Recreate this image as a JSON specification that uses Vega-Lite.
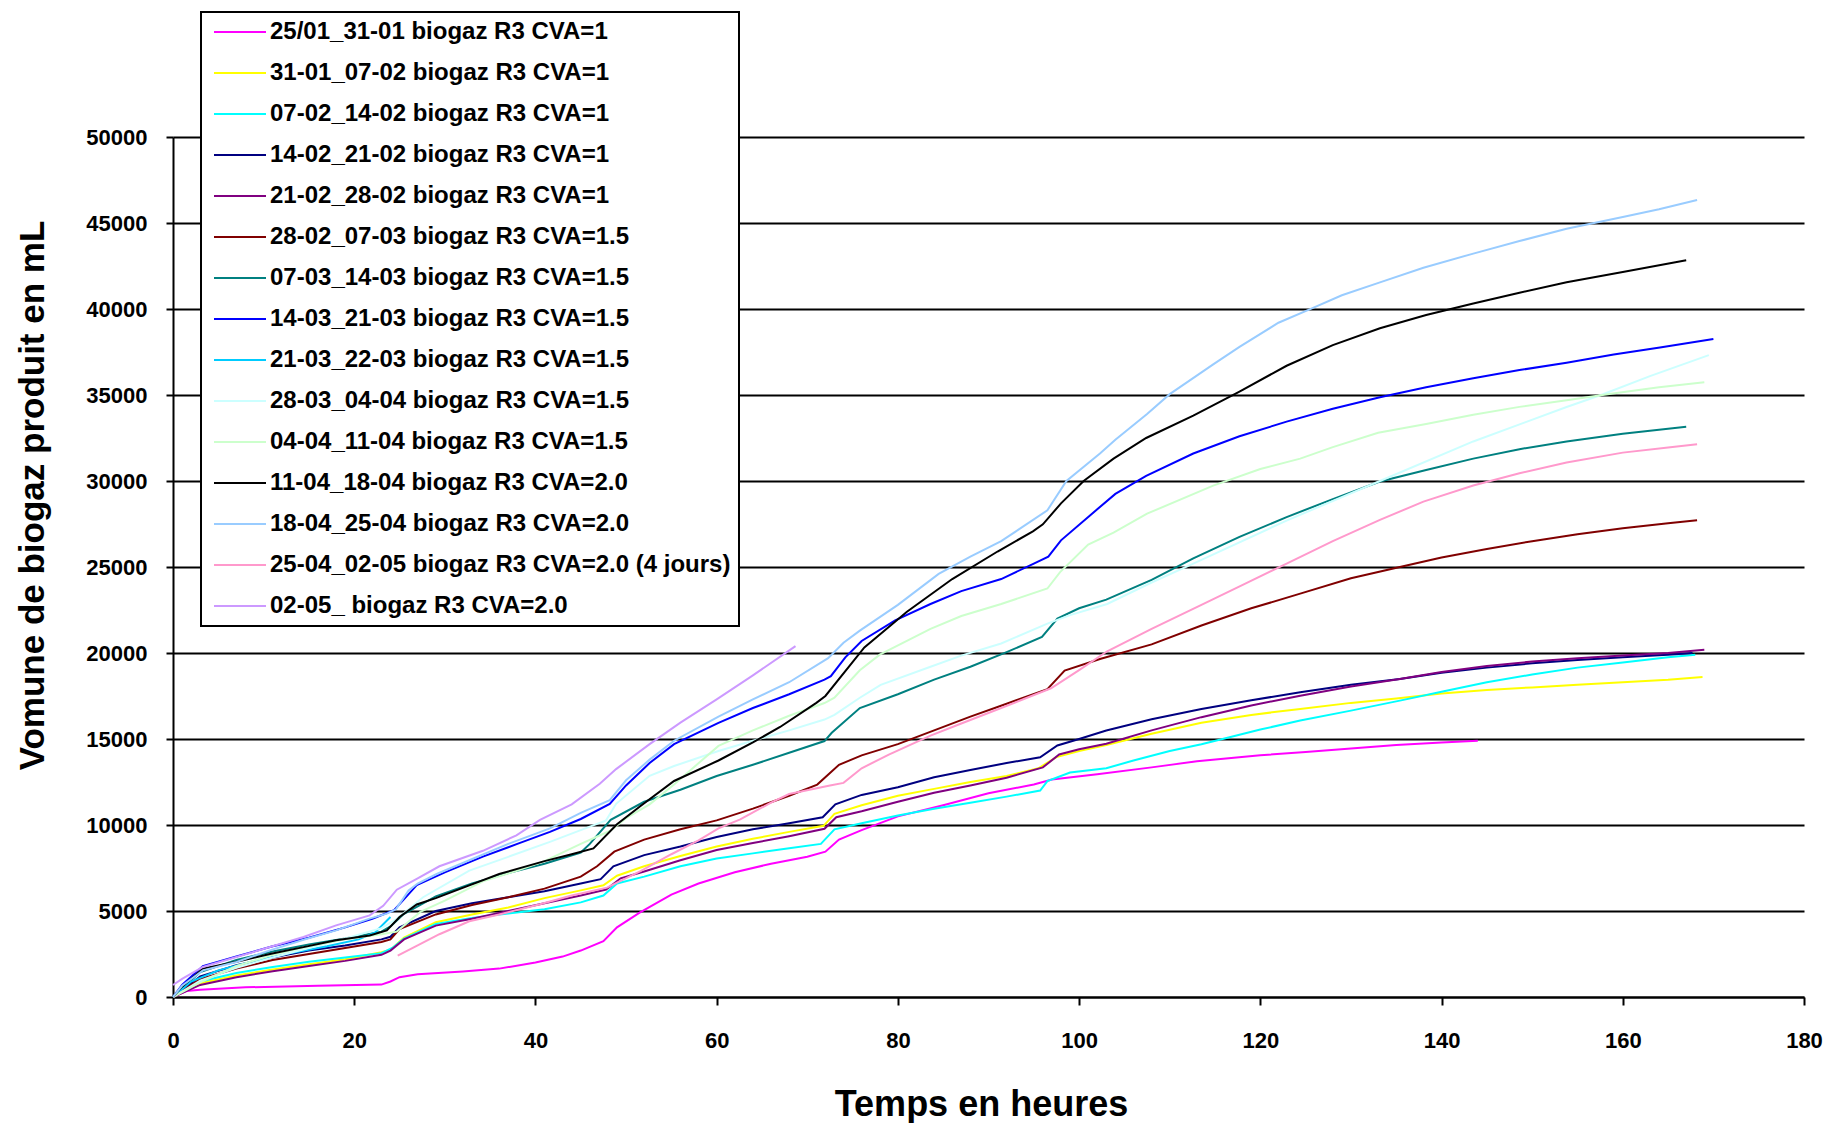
{
"$schema":"https://vega.github.io/schema/vega-lite/v6.json",
"width":1631,"height":860,
"autosize":{"type":"none"},
"padding":{"left":173,"top":137,"right":27,"bottom":126},
"background":"white",
"config":{"view":{"stroke":null},"font":"Liberation Sans","legend":{"strokeWidth":2}},
"datasets":{
"names":[
{"k":"A","name":"25/01_31-01 biogaz R3 CVA=1"},
{"k":"B","name":"31-01_07-02 biogaz R3 CVA=1"},
{"k":"C","name":"07-02_14-02 biogaz R3 CVA=1"},
{"k":"D","name":"14-02_21-02 biogaz R3 CVA=1"},
{"k":"E","name":"21-02_28-02 biogaz R3 CVA=1"},
{"k":"F","name":"28-02_07-03 biogaz R3 CVA=1.5"},
{"k":"G","name":"07-03_14-03 biogaz R3 CVA=1.5"},
{"k":"H","name":"14-03_21-03 biogaz R3 CVA=1.5"},
{"k":"I","name":"21-03_22-03 biogaz R3 CVA=1.5"},
{"k":"J","name":"28-03_04-04 biogaz R3 CVA=1.5"},
{"k":"K","name":"04-04_11-04 biogaz R3 CVA=1.5"},
{"k":"L","name":"11-04_18-04 biogaz R3 CVA=2.0"},
{"k":"M","name":"18-04_25-04 biogaz R3 CVA=2.0"},
{"k":"N","name":"25-04_02-05 biogaz R3 CVA=2.0 (4 jours)"},
{"k":"O","name":"02-05_ biogaz R3 CVA=2.0"}
],
"pts":[
{"s":"A","t":0,"v":0},{"s":"A","t":1.5,"v":350},{"s":"A","t":3,"v":420},{"s":"A","t":8,"v":560},{"s":"A","t":16,"v":660},{"s":"A","t":23,"v":720},{"s":"A","t":24,"v":900},{"s":"A","t":25,"v":1150},{"s":"A","t":27,"v":1320},{"s":"A","t":32,"v":1480},{"s":"A","t":36,"v":1650},{"s":"A","t":40,"v":2000},{"s":"A","t":43,"v":2350},{"s":"A","t":45,"v":2700},{"s":"A","t":47.5,"v":3250},{"s":"A","t":49,"v":4050},{"s":"A","t":51.5,"v":4900},{"s":"A","t":55,"v":5950},{"s":"A","t":58,"v":6600},{"s":"A","t":62,"v":7250},{"s":"A","t":66,"v":7750},{"s":"A","t":70,"v":8150},{"s":"A","t":72,"v":8450},{"s":"A","t":73.5,"v":9150},{"s":"A","t":76,"v":9700},{"s":"A","t":80,"v":10500},{"s":"A","t":85,"v":11150},{"s":"A","t":90,"v":11850},{"s":"A","t":95,"v":12350},{"s":"A","t":97,"v":12650},{"s":"A","t":102,"v":12950},{"s":"A","t":108,"v":13350},{"s":"A","t":113,"v":13700},{"s":"A","t":120,"v":14050},{"s":"A","t":125,"v":14250},{"s":"A","t":130,"v":14450},{"s":"A","t":135,"v":14650},{"s":"A","t":140,"v":14800},{"s":"A","t":144,"v":14900},
{"s":"B","t":0,"v":0},{"s":"B","t":3,"v":800},{"s":"B","t":7,"v":1250},{"s":"B","t":11,"v":1600},{"s":"B","t":15,"v":1900},{"s":"B","t":19,"v":2200},{"s":"B","t":23,"v":2600},{"s":"B","t":24,"v":2750},{"s":"B","t":25.5,"v":3450},{"s":"B","t":29,"v":4350},{"s":"B","t":33,"v":4800},{"s":"B","t":37,"v":5200},{"s":"B","t":41,"v":5750},{"s":"B","t":45,"v":6200},{"s":"B","t":47.5,"v":6500},{"s":"B","t":49,"v":7050},{"s":"B","t":52,"v":7600},{"s":"B","t":56,"v":8200},{"s":"B","t":60,"v":8750},{"s":"B","t":64,"v":9200},{"s":"B","t":68,"v":9600},{"s":"B","t":71.8,"v":9950},{"s":"B","t":73,"v":10650},{"s":"B","t":76,"v":11150},{"s":"B","t":80,"v":11700},{"s":"B","t":84,"v":12100},{"s":"B","t":88,"v":12500},{"s":"B","t":92,"v":12850},{"s":"B","t":95.5,"v":13300},{"s":"B","t":97.5,"v":13950},{"s":"B","t":100,"v":14300},{"s":"B","t":103,"v":14650},{"s":"B","t":108,"v":15300},{"s":"B","t":113.5,"v":15950},{"s":"B","t":119,"v":16400},{"s":"B","t":124.4,"v":16750},{"s":"B","t":130,"v":17100},{"s":"B","t":135,"v":17350},{"s":"B","t":140,"v":17650},{"s":"B","t":145,"v":17850},{"s":"B","t":150,"v":18000},{"s":"B","t":155,"v":18150},{"s":"B","t":160,"v":18300},{"s":"B","t":165,"v":18450},{"s":"B","t":168.8,"v":18610},
{"s":"C","t":0,"v":0},{"s":"C","t":3,"v":900},{"s":"C","t":7,"v":1400},{"s":"C","t":11,"v":1750},{"s":"C","t":15,"v":2050},{"s":"C","t":19,"v":2300},{"s":"C","t":23,"v":2550},{"s":"C","t":24.2,"v":2850},{"s":"C","t":25.5,"v":3400},{"s":"C","t":29,"v":4250},{"s":"C","t":33,"v":4600},{"s":"C","t":37,"v":4850},{"s":"C","t":41,"v":5100},{"s":"C","t":45,"v":5500},{"s":"C","t":47.5,"v":5900},{"s":"C","t":49,"v":6600},{"s":"C","t":52,"v":7000},{"s":"C","t":56,"v":7600},{"s":"C","t":60,"v":8050},{"s":"C","t":64,"v":8350},{"s":"C","t":68,"v":8650},{"s":"C","t":71.5,"v":8900},{"s":"C","t":73,"v":9750},{"s":"C","t":76,"v":10100},{"s":"C","t":80,"v":10550},{"s":"C","t":84,"v":10950},{"s":"C","t":88,"v":11300},{"s":"C","t":92,"v":11650},{"s":"C","t":95.7,"v":12000},{"s":"C","t":96.5,"v":12550},{"s":"C","t":99,"v":13050},{"s":"C","t":103,"v":13300},{"s":"C","t":106,"v":13750},{"s":"C","t":110,"v":14300},{"s":"C","t":113.5,"v":14700},{"s":"C","t":116.6,"v":15100},{"s":"C","t":120,"v":15550},{"s":"C","t":124.4,"v":16070},{"s":"C","t":130,"v":16650},{"s":"C","t":135.4,"v":17230},{"s":"C","t":140,"v":17750},{"s":"C","t":145,"v":18300},{"s":"C","t":150,"v":18750},{"s":"C","t":155,"v":19150},{"s":"C","t":160,"v":19450},{"s":"C","t":165,"v":19750},{"s":"C","t":168,"v":19900},
{"s":"D","t":0,"v":0},{"s":"D","t":3,"v":1200},{"s":"D","t":7,"v":1850},{"s":"D","t":11,"v":2300},{"s":"D","t":15,"v":2700},{"s":"D","t":19,"v":3000},{"s":"D","t":23,"v":3350},{"s":"D","t":24,"v":3500},{"s":"D","t":25,"v":4050},{"s":"D","t":29,"v":5000},{"s":"D","t":33,"v":5450},{"s":"D","t":37,"v":5800},{"s":"D","t":41,"v":6150},{"s":"D","t":45,"v":6600},{"s":"D","t":47.2,"v":6850},{"s":"D","t":48.6,"v":7600},{"s":"D","t":52,"v":8250},{"s":"D","t":56,"v":8750},{"s":"D","t":60,"v":9300},{"s":"D","t":64,"v":9750},{"s":"D","t":68,"v":10100},{"s":"D","t":71.7,"v":10450},{"s":"D","t":73.1,"v":11200},{"s":"D","t":76,"v":11750},{"s":"D","t":80,"v":12200},{"s":"D","t":84,"v":12780},{"s":"D","t":88,"v":13200},{"s":"D","t":92,"v":13600},{"s":"D","t":95.7,"v":13940},{"s":"D","t":97.6,"v":14620},{"s":"D","t":100,"v":15000},{"s":"D","t":103,"v":15490},{"s":"D","t":108,"v":16150},{"s":"D","t":113.5,"v":16750},{"s":"D","t":119,"v":17250},{"s":"D","t":124.4,"v":17720},{"s":"D","t":130,"v":18150},{"s":"D","t":135.4,"v":18490},{"s":"D","t":140,"v":18850},{"s":"D","t":145,"v":19150},{"s":"D","t":150,"v":19400},{"s":"D","t":155,"v":19600},{"s":"D","t":160,"v":19750},{"s":"D","t":165,"v":19900},{"s":"D","t":167.7,"v":20000},
{"s":"E","t":0,"v":0},{"s":"E","t":3,"v":700},{"s":"E","t":7,"v":1150},{"s":"E","t":11,"v":1500},{"s":"E","t":15,"v":1800},{"s":"E","t":19,"v":2100},{"s":"E","t":23,"v":2450},{"s":"E","t":24,"v":2700},{"s":"E","t":25.5,"v":3350},{"s":"E","t":29,"v":4150},{"s":"E","t":33,"v":4550},{"s":"E","t":37,"v":5000},{"s":"E","t":41,"v":5450},{"s":"E","t":45,"v":5900},{"s":"E","t":47.8,"v":6250},{"s":"E","t":49.4,"v":6900},{"s":"E","t":52,"v":7300},{"s":"E","t":56,"v":7950},{"s":"E","t":60,"v":8550},{"s":"E","t":64,"v":8950},{"s":"E","t":68,"v":9350},{"s":"E","t":71.9,"v":9780},{"s":"E","t":73.2,"v":10450},{"s":"E","t":76,"v":10800},{"s":"E","t":80,"v":11350},{"s":"E","t":84,"v":11880},{"s":"E","t":88,"v":12300},{"s":"E","t":92,"v":12750},{"s":"E","t":96,"v":13350},{"s":"E","t":97.8,"v":14100},{"s":"E","t":100,"v":14400},{"s":"E","t":103,"v":14720},{"s":"E","t":108,"v":15500},{"s":"E","t":113.5,"v":16270},{"s":"E","t":119,"v":16950},{"s":"E","t":124.4,"v":17520},{"s":"E","t":130,"v":18050},{"s":"E","t":135.4,"v":18490},{"s":"E","t":140,"v":18900},{"s":"E","t":145,"v":19250},{"s":"E","t":150,"v":19500},{"s":"E","t":155,"v":19700},{"s":"E","t":160,"v":19850},{"s":"E","t":165,"v":20000},{"s":"E","t":169,"v":20190},
{"s":"F","t":0,"v":0},{"s":"F","t":3,"v":1050},{"s":"F","t":7,"v":1650},{"s":"F","t":11,"v":2150},{"s":"F","t":15,"v":2500},{"s":"F","t":19,"v":2850},{"s":"F","t":23,"v":3200},{"s":"F","t":24,"v":3350},{"s":"F","t":25,"v":3950},{"s":"F","t":29,"v":4800},{"s":"F","t":33,"v":5350},{"s":"F","t":37,"v":5800},{"s":"F","t":41,"v":6300},{"s":"F","t":45,"v":7000},{"s":"F","t":46.8,"v":7600},{"s":"F","t":48.7,"v":8450},{"s":"F","t":52,"v":9150},{"s":"F","t":56,"v":9750},{"s":"F","t":60,"v":10270},{"s":"F","t":64,"v":10950},{"s":"F","t":68,"v":11700},{"s":"F","t":71.1,"v":12350},{"s":"F","t":73.5,"v":13500},{"s":"F","t":76,"v":14050},{"s":"F","t":80,"v":14700},{"s":"F","t":84,"v":15500},{"s":"F","t":88,"v":16300},{"s":"F","t":92,"v":17050},{"s":"F","t":96.5,"v":17900},{"s":"F","t":98.4,"v":18980},{"s":"F","t":102.3,"v":19650},{"s":"F","t":108,"v":20500},{"s":"F","t":113.5,"v":21600},{"s":"F","t":119,"v":22600},{"s":"F","t":124.4,"v":23450},{"s":"F","t":130,"v":24350},{"s":"F","t":135.4,"v":25000},{"s":"F","t":140,"v":25550},{"s":"F","t":145,"v":26050},{"s":"F","t":150,"v":26500},{"s":"F","t":155,"v":26900},{"s":"F","t":160,"v":27250},{"s":"F","t":165,"v":27550},{"s":"F","t":168.2,"v":27720},
{"s":"G","t":0,"v":0},{"s":"G","t":3,"v":1450},{"s":"G","t":7,"v":2150},{"s":"G","t":11,"v":2650},{"s":"G","t":15,"v":3050},{"s":"G","t":19,"v":3400},{"s":"G","t":23,"v":3800},{"s":"G","t":24,"v":4100},{"s":"G","t":25.4,"v":4800},{"s":"G","t":29,"v":5850},{"s":"G","t":33,"v":6600},{"s":"G","t":37,"v":7200},{"s":"G","t":41,"v":7750},{"s":"G","t":45,"v":8400},{"s":"G","t":46,"v":8900},{"s":"G","t":48.3,"v":10300},{"s":"G","t":52,"v":11350},{"s":"G","t":56,"v":12050},{"s":"G","t":60,"v":12850},{"s":"G","t":64,"v":13500},{"s":"G","t":68,"v":14200},{"s":"G","t":71.9,"v":14880},{"s":"G","t":72.7,"v":15360},{"s":"G","t":75.8,"v":16800},{"s":"G","t":80,"v":17600},{"s":"G","t":84,"v":18450},{"s":"G","t":88,"v":19200},{"s":"G","t":92,"v":20050},{"s":"G","t":95.9,"v":20930},{"s":"G","t":97.6,"v":22000},{"s":"G","t":100,"v":22600},{"s":"G","t":103,"v":23100},{"s":"G","t":108,"v":24250},{"s":"G","t":112.6,"v":25500},{"s":"G","t":117.7,"v":26750},{"s":"G","t":122.9,"v":27900},{"s":"G","t":128,"v":28950},{"s":"G","t":133.2,"v":29970},{"s":"G","t":138.3,"v":30640},{"s":"G","t":143.5,"v":31300},{"s":"G","t":148.6,"v":31850},{"s":"G","t":153.8,"v":32300},{"s":"G","t":160,"v":32750},{"s":"G","t":167,"v":33150},
{"s":"H","t":0,"v":0},{"s":"H","t":1,"v":700},{"s":"H","t":3.3,"v":1800},{"s":"H","t":7,"v":2350},{"s":"H","t":11,"v":2950},{"s":"H","t":15,"v":3450},{"s":"H","t":19,"v":4050},{"s":"H","t":22,"v":4550},{"s":"H","t":24.4,"v":5050},{"s":"H","t":26.9,"v":6500},{"s":"H","t":30,"v":7250},{"s":"H","t":34.2,"v":8160},{"s":"H","t":38,"v":8900},{"s":"H","t":41.6,"v":9600},{"s":"H","t":45,"v":10350},{"s":"H","t":48.2,"v":11230},{"s":"H","t":50,"v":12300},{"s":"H","t":52.6,"v":13600},{"s":"H","t":55.3,"v":14700},{"s":"H","t":60.2,"v":15940},{"s":"H","t":64,"v":16800},{"s":"H","t":68,"v":17600},{"s":"H","t":71.9,"v":18450},{"s":"H","t":72.6,"v":18650},{"s":"H","t":74.2,"v":19750},{"s":"H","t":76,"v":20700},{"s":"H","t":79.7,"v":21900},{"s":"H","t":83.6,"v":22850},{"s":"H","t":87,"v":23600},{"s":"H","t":91.4,"v":24300},{"s":"H","t":95,"v":25200},{"s":"H","t":96.6,"v":25600},{"s":"H","t":98,"v":26550},{"s":"H","t":101.2,"v":28000},{"s":"H","t":104,"v":29250},{"s":"H","t":107.4,"v":30300},{"s":"H","t":112.6,"v":31600},{"s":"H","t":117.7,"v":32600},{"s":"H","t":122.9,"v":33450},{"s":"H","t":128,"v":34200},{"s":"H","t":133.2,"v":34870},{"s":"H","t":138.3,"v":35450},{"s":"H","t":143.5,"v":35980},{"s":"H","t":148.6,"v":36450},{"s":"H","t":153.8,"v":36870},{"s":"H","t":159,"v":37350},{"s":"H","t":164.1,"v":37760},{"s":"H","t":170,"v":38250},
{"s":"I","t":0,"v":0},{"s":"I","t":2,"v":900},{"s":"I","t":5,"v":1550},{"s":"I","t":9,"v":2100},{"s":"I","t":13,"v":2550},{"s":"I","t":17,"v":2950},{"s":"I","t":20.5,"v":3350},{"s":"I","t":22.3,"v":3750},{"s":"I","t":24,"v":4650},
{"s":"J","t":0,"v":0},{"s":"J","t":3,"v":950},{"s":"J","t":7,"v":1700},{"s":"J","t":11,"v":2300},{"s":"J","t":15,"v":2850},{"s":"J","t":19,"v":3400},{"s":"J","t":23,"v":4000},{"s":"J","t":24.7,"v":4550},{"s":"J","t":27.6,"v":5800},{"s":"J","t":32.7,"v":7350},{"s":"J","t":37,"v":8150},{"s":"J","t":41.6,"v":9020},{"s":"J","t":45,"v":9700},{"s":"J","t":47.8,"v":10270},{"s":"J","t":48.9,"v":11230},{"s":"J","t":52.6,"v":12860},{"s":"J","t":55.3,"v":13430},{"s":"J","t":60.2,"v":14300},{"s":"J","t":64,"v":14900},{"s":"J","t":68,"v":15500},{"s":"J","t":71.9,"v":16130},{"s":"J","t":73,"v":16400},{"s":"J","t":75.8,"v":17400},{"s":"J","t":78.1,"v":18150},{"s":"J","t":83.6,"v":19200},{"s":"J","t":87,"v":19850},{"s":"J","t":91.4,"v":20550},{"s":"J","t":96.5,"v":21710},{"s":"J","t":99,"v":22200},{"s":"J","t":103.1,"v":22850},{"s":"J","t":108,"v":24100},{"s":"J","t":112.6,"v":25200},{"s":"J","t":122.9,"v":27700},{"s":"J","t":133.2,"v":30000},{"s":"J","t":143.5,"v":32300},{"s":"J","t":153.8,"v":34300},{"s":"J","t":157.6,"v":35000},{"s":"J","t":163,"v":36100},{"s":"J","t":169.5,"v":37320},
{"s":"K","t":0,"v":0},{"s":"K","t":3,"v":850},{"s":"K","t":7,"v":1800},{"s":"K","t":11,"v":2450},{"s":"K","t":15,"v":2950},{"s":"K","t":19,"v":3350},{"s":"K","t":23,"v":3650},{"s":"K","t":24.7,"v":3800},{"s":"K","t":27.3,"v":4950},{"s":"K","t":30,"v":5600},{"s":"K","t":34.2,"v":6720},{"s":"K","t":38,"v":7350},{"s":"K","t":41,"v":7900},{"s":"K","t":45,"v":8900},{"s":"K","t":48.2,"v":9650},{"s":"K","t":50,"v":10400},{"s":"K","t":52.6,"v":11200},{"s":"K","t":55.3,"v":12360},{"s":"K","t":60.2,"v":14600},{"s":"K","t":64,"v":15500},{"s":"K","t":68,"v":16350},{"s":"K","t":71.9,"v":17090},{"s":"K","t":73,"v":17400},{"s":"K","t":75.8,"v":19000},{"s":"K","t":78,"v":19900},{"s":"K","t":83.6,"v":21400},{"s":"K","t":87,"v":22150},{"s":"K","t":91.4,"v":22850},{"s":"K","t":96.5,"v":23750},{"s":"K","t":97.9,"v":24700},{"s":"K","t":101,"v":26300},{"s":"K","t":103.8,"v":27000},{"s":"K","t":107.5,"v":28100},{"s":"K","t":114.8,"v":29730},{"s":"K","t":120,"v":30700},{"s":"K","t":124.4,"v":31300},{"s":"K","t":128,"v":31970},{"s":"K","t":133,"v":32800},{"s":"K","t":138.3,"v":33310},{"s":"K","t":143.5,"v":33850},{"s":"K","t":148.6,"v":34310},{"s":"K","t":153.8,"v":34700},{"s":"K","t":158.9,"v":35090},{"s":"K","t":164,"v":35450},{"s":"K","t":169,"v":35740},
{"s":"L","t":0,"v":0},{"s":"L","t":1,"v":600},{"s":"L","t":3.3,"v":1650},{"s":"L","t":7,"v":2050},{"s":"L","t":10.7,"v":2500},{"s":"L","t":14.4,"v":2900},{"s":"L","t":18,"v":3300},{"s":"L","t":21.7,"v":3580},{"s":"L","t":23.6,"v":3875},{"s":"L","t":25,"v":4650},{"s":"L","t":26.9,"v":5380},{"s":"L","t":29,"v":5750},{"s":"L","t":32.7,"v":6490},{"s":"L","t":36,"v":7150},{"s":"L","t":41,"v":7900},{"s":"L","t":44,"v":8300},{"s":"L","t":46.4,"v":8640},{"s":"L","t":49,"v":10040},{"s":"L","t":51.6,"v":11100},{"s":"L","t":55.3,"v":12560},{"s":"L","t":60.2,"v":13750},{"s":"L","t":64,"v":14800},{"s":"L","t":67,"v":15700},{"s":"L","t":71,"v":17100},{"s":"L","t":72,"v":17500},{"s":"L","t":76.3,"v":20320},{"s":"L","t":81,"v":22400},{"s":"L","t":86,"v":24300},{"s":"L","t":91,"v":25900},{"s":"L","t":94.9,"v":27070},{"s":"L","t":96,"v":27480},{"s":"L","t":98,"v":28700},{"s":"L","t":100.5,"v":30000},{"s":"L","t":103.8,"v":31300},{"s":"L","t":107.4,"v":32500},{"s":"L","t":112.6,"v":33800},{"s":"L","t":117.7,"v":35200},{"s":"L","t":122.9,"v":36700},{"s":"L","t":128,"v":37900},{"s":"L","t":133.2,"v":38880},{"s":"L","t":138.3,"v":39650},{"s":"L","t":143.5,"v":40320},{"s":"L","t":148.6,"v":40950},{"s":"L","t":153.8,"v":41550},{"s":"L","t":160,"v":42150},{"s":"L","t":167,"v":42840},
{"s":"M","t":0,"v":0},{"s":"M","t":1,"v":650},{"s":"M","t":3.3,"v":1550},{"s":"M","t":7,"v":2035},{"s":"M","t":10.7,"v":2713},{"s":"M","t":14.4,"v":3330},{"s":"M","t":18,"v":3875},{"s":"M","t":21.7,"v":4555},{"s":"M","t":23.6,"v":4845},{"s":"M","t":24.6,"v":5100},{"s":"M","t":26,"v":6200},{"s":"M","t":27,"v":6600},{"s":"M","t":29.1,"v":7150},{"s":"M","t":32.7,"v":7950},{"s":"M","t":37,"v":8900},{"s":"M","t":41.6,"v":9800},{"s":"M","t":45,"v":10700},{"s":"M","t":48.2,"v":11450},{"s":"M","t":50,"v":12600},{"s":"M","t":52.6,"v":13800},{"s":"M","t":55.3,"v":14900},{"s":"M","t":60.2,"v":16300},{"s":"M","t":64,"v":17300},{"s":"M","t":68,"v":18300},{"s":"M","t":72.3,"v":19700},{"s":"M","t":74,"v":20600},{"s":"M","t":75.8,"v":21300},{"s":"M","t":80,"v":22800},{"s":"M","t":84.5,"v":24600},{"s":"M","t":88,"v":25600},{"s":"M","t":91.4,"v":26500},{"s":"M","t":96.5,"v":28300},{"s":"M","t":98.6,"v":30000},{"s":"M","t":102.3,"v":31600},{"s":"M","t":104,"v":32400},{"s":"M","t":107.5,"v":33900},{"s":"M","t":110,"v":35050},{"s":"M","t":114.8,"v":36780},{"s":"M","t":117.7,"v":37800},{"s":"M","t":122,"v":39200},{"s":"M","t":125.5,"v":39990},{"s":"M","t":129,"v":40800},{"s":"M","t":133.2,"v":41550},{"s":"M","t":138,"v":42400},{"s":"M","t":143.5,"v":43220},{"s":"M","t":148.6,"v":43950},{"s":"M","t":153.8,"v":44670},{"s":"M","t":160,"v":45350},{"s":"M","t":164,"v":45800},{"s":"M","t":168.2,"v":46340},
{"s":"N","t":24.8,"v":2400},{"s":"N","t":27,"v":3000},{"s":"N","t":29.4,"v":3650},{"s":"N","t":32.7,"v":4400},{"s":"N","t":36,"v":4800},{"s":"N","t":40.5,"v":5390},{"s":"N","t":44,"v":5900},{"s":"N","t":47.9,"v":6360},{"s":"N","t":49,"v":6650},{"s":"N","t":51.6,"v":7320},{"s":"N","t":55,"v":8300},{"s":"N","t":58,"v":9100},{"s":"N","t":60.2,"v":9800},{"s":"N","t":62.6,"v":10330},{"s":"N","t":66,"v":11300},{"s":"N","t":68,"v":11800},{"s":"N","t":72.5,"v":12300},{"s":"N","t":74,"v":12450},{"s":"N","t":76,"v":13300},{"s":"N","t":79,"v":14090},{"s":"N","t":83.6,"v":15200},{"s":"N","t":87,"v":15900},{"s":"N","t":91.4,"v":16800},{"s":"N","t":96.9,"v":17950},{"s":"N","t":100,"v":19000},{"s":"N","t":103.1,"v":20100},{"s":"N","t":108,"v":21400},{"s":"N","t":113.5,"v":22800},{"s":"N","t":118,"v":23950},{"s":"N","t":122.9,"v":25200},{"s":"N","t":128,"v":26500},{"s":"N","t":133.2,"v":27740},{"s":"N","t":138,"v":28800},{"s":"N","t":143.5,"v":29740},{"s":"N","t":148.6,"v":30450},{"s":"N","t":153.8,"v":31080},{"s":"N","t":160,"v":31650},{"s":"N","t":165,"v":31950},{"s":"N","t":168.2,"v":32130},
{"s":"O","t":0,"v":700},{"s":"O","t":1,"v":1050},{"s":"O","t":3.3,"v":1744},{"s":"O","t":7,"v":2325},{"s":"O","t":10.7,"v":2906},{"s":"O","t":14.4,"v":3487},{"s":"O","t":18,"v":4165},{"s":"O","t":21.7,"v":4746},{"s":"O","t":23.2,"v":5300},{"s":"O","t":24.7,"v":6240},{"s":"O","t":27,"v":6900},{"s":"O","t":29.4,"v":7600},{"s":"O","t":34.2,"v":8500},{"s":"O","t":37.9,"v":9400},{"s":"O","t":40.5,"v":10300},{"s":"O","t":44,"v":11200},{"s":"O","t":47.1,"v":12400},{"s":"O","t":48.9,"v":13250},{"s":"O","t":52.6,"v":14700},{"s":"O","t":56,"v":15950},{"s":"O","t":60,"v":17300},{"s":"O","t":64,"v":18700},{"s":"O","t":68.7,"v":20400}
]},
"data":{"name":"pts"},
"transform":[{"lookup":"s","from":{"data":{"name":"names"},"key":"k","fields":["name"]}}],
"mark":{"type":"line","strokeWidth":2},
"encoding":{
"x":{"field":"t","type":"quantitative","scale":{"domain":[0,180],"nice":false,"zero":false},
"axis":{"values":[0,20,40,60,80,100,120,140,160,180],"title":"Temps en heures","grid":false,"domainColor":"black","domainWidth":2,"tickColor":"black","tickWidth":2,"tickSize":8,"labelFont":"Liberation Sans","labelFontSize":22,"labelFontWeight":"bold","labelColor":"black","labelPadding":25,"labelFlush":false,"titleFont":"Liberation Sans","titleFontSize":36,"titleFontWeight":"bold","titleColor":"black","titleX":808,"titleY":107,"titleAlign":"center","titleBaseline":"middle"}},
"y":{"field":"v","type":"quantitative","scale":{"domain":[0,50000],"nice":false},
"axis":{"values":[0,5000,10000,15000,20000,25000,30000,35000,40000,45000,50000],"format":"d","title":"Vomune de biogaz produit en mL","grid":true,"gridColor":"black","gridWidth":2,"gridOpacity":1,"domainColor":"black","domainWidth":2,"tickColor":"black","tickWidth":2,"tickSize":7,"labelFont":"Liberation Sans","labelFontSize":22,"labelFontWeight":"bold","labelColor":"black","labelPadding":19,"labelFlush":false,"titleFont":"Liberation Sans","titleFontSize":35,"titleFontWeight":"bold","titleColor":"black","titleAngle":-90,"titleX":-141,"titleY":358,"titleAlign":"center","titleBaseline":"middle"}},
"color":{"field":"name","type":"nominal",
"scale":{"domain":["25/01_31-01 biogaz R3 CVA=1","31-01_07-02 biogaz R3 CVA=1","07-02_14-02 biogaz R3 CVA=1","14-02_21-02 biogaz R3 CVA=1","21-02_28-02 biogaz R3 CVA=1","28-02_07-03 biogaz R3 CVA=1.5","07-03_14-03 biogaz R3 CVA=1.5","14-03_21-03 biogaz R3 CVA=1.5","21-03_22-03 biogaz R3 CVA=1.5","28-03_04-04 biogaz R3 CVA=1.5","04-04_11-04 biogaz R3 CVA=1.5","11-04_18-04 biogaz R3 CVA=2.0","18-04_25-04 biogaz R3 CVA=2.0","25-04_02-05 biogaz R3 CVA=2.0 (4 jours)","02-05_ biogaz R3 CVA=2.0"],
"range":["#FF00FF","#FFFF00","#00FFFF","#000080","#800080","#800000","#008080","#0000FF","#00CCFF","#CCFFFF","#CCFFCC","#000000","#99CCFF","#FF99CC","#CC99FF"]},
"legend":{"title":null,"orient":"none","legendX":28,"legendY":-125,"direction":"vertical","fillColor":"white","strokeColor":"black","padding":8,"symbolType":"M-4,0H4","symbolSize":169,"symbolStrokeWidth":2,"symbolOffset":19,"labelOffset":18,"labelFont":"Liberation Sans","labelFontSize":24,"labelFontWeight":"bold","labelColor":"black","labelLimit":0,"rowPadding":17}}
}
}
